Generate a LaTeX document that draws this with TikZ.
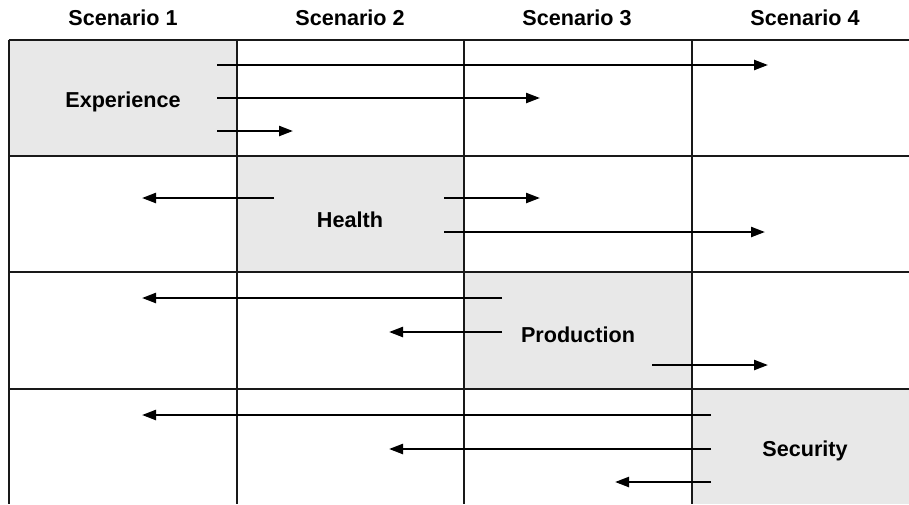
\documentclass[tikz,border=0pt]{standalone}
\usepackage{fontspec}
\setmainfont{Liberation Sans}
\usetikzlibrary{arrows.meta}
\begin{document}
\begin{tikzpicture}[x=1pt,y=-1pt,
  gridline/.style={line width=2pt,draw=black!90},
  cellfill/.style={fill=black!9,draw=none},
  label/.style={font=\fontsize{21.6}{26}\selectfont\bfseries,inner sep=0pt},
  flow/.style={line width=2.3pt,-{Triangle[length=14pt,width=10pt]}}]
\useasboundingbox (0,0) rectangle (909,504);
% shaded diagonal cells
\fill[cellfill] (8.5,39.5) rectangle (236.5,156);
\fill[cellfill] (236.5,156) rectangle (464,272);
\fill[cellfill] (464,272) rectangle (692,389);
\fill[cellfill] (692,389) rectangle (909,504);
% grid
\foreach \yy in {39.5,156,272,389} \draw[gridline] (8.5,\yy) -- (909,\yy);
\foreach \xx in {8.5,236.5,464,692} \draw[gridline] (\xx,39.5) -- (\xx,504);
% column headings
\node[label] (s1) at (123,18) {Scenario 1};
\node[label] (s2) at (350,18) {Scenario 2};
\node[label] (s3) at (577,18) {Scenario 3};
\node[label] (s4) at (805,18) {Scenario 4};
% row labels
\node[label] (exp) at (123,102) {Experience};
\node[label] (hea) at (350,220) {Health};
\node[label] (pro) at (578,335) {Production};
\node[label] (sec) at (805,451) {Security};
% arrow end points
\coordinate (e1a) at (217,65);  \coordinate (e1b) at (768,65);
\coordinate (e2a) at (217,98);  \coordinate (e2b) at (540,98);
\coordinate (e3a) at (217,131); \coordinate (e3b) at (293,131);
\coordinate (h1a) at (274,198); \coordinate (h1b) at (142,198);
\coordinate (h2a) at (444,198); \coordinate (h2b) at (540,198);
\coordinate (h3a) at (444,232); \coordinate (h3b) at (765,232);
\coordinate (p1a) at (502,298); \coordinate (p1b) at (142,298);
\coordinate (p2a) at (502,332); \coordinate (p2b) at (389,332);
\coordinate (p3a) at (652,365); \coordinate (p3b) at (768,365);
\coordinate (c1a) at (711,415); \coordinate (c1b) at (142,415);
\coordinate (c2a) at (711,449); \coordinate (c2b) at (389,449);
\coordinate (c3a) at (711,482); \coordinate (c3b) at (615,482);
% arrows
\draw[flow] (e1a) -- (e1b);
\draw[flow] (e2a) -- (e2b);
\draw[flow] (e3a) -- (e3b);
\draw[flow] (h1a) -- (h1b);
\draw[flow] (h2a) -- (h2b);
\draw[flow] (h3a) -- (h3b);
\draw[flow] (p1a) -- (p1b);
\draw[flow] (p2a) -- (p2b);
\draw[flow] (p3a) -- (p3b);
\draw[flow] (c1a) -- (c1b);
\draw[flow] (c2a) -- (c2b);
\draw[flow] (c3a) -- (c3b);
\end{tikzpicture}
\end{document}
